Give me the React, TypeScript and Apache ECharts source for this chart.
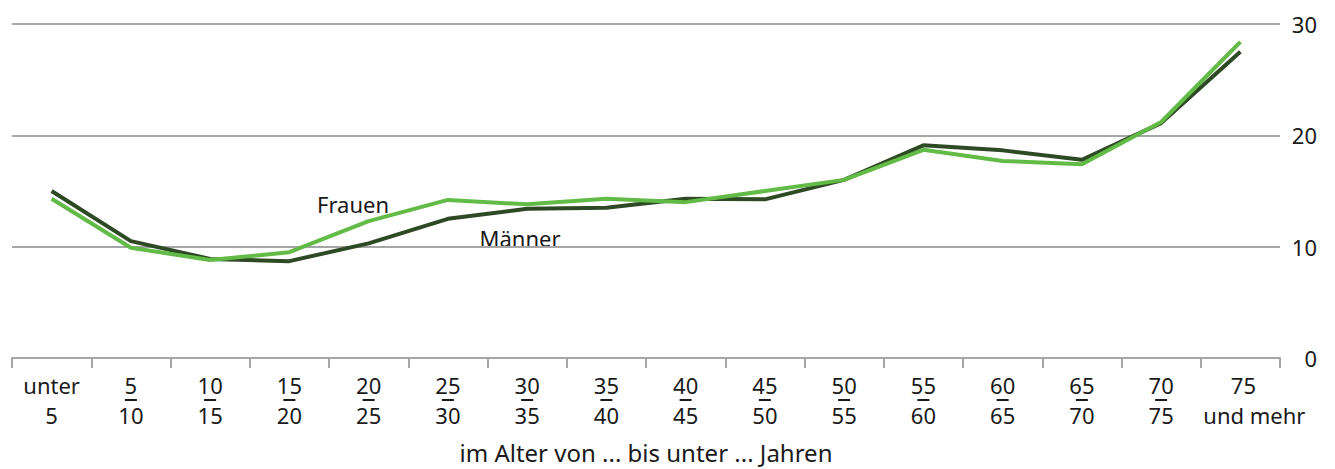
import React, { useEffect, useRef } from "react";
import * as echarts from "echarts";

const ageFrom = ["unter", "5", "10", "15", "20", "25", "30", "35", "40", "45", "50", "55", "60", "65", "70", "75"];
const ageTo = ["5", "10", "15", "20", "25", "30", "35", "40", "45", "50", "55", "60", "65", "70", "75", "und mehr"];
const categories = ageFrom.map((f, i) => `${f} ${ageTo[i]}`);

const maenner = [15.0, 10.5, 8.9, 8.7, 10.3, 12.5, 13.4, 13.5, 14.3, 14.25, 16.0, 19.1, 18.65, 17.8, 21.1, 27.5];
const frauen = [14.3, 9.9, 8.8, 9.5, 12.3, 14.2, 13.8, 14.3, 14.0, 15.0, 16.0, 18.7, 17.7, 17.4, 21.2, 28.4];

const yTicks = [0, 10, 20, 30];
const axisTitle = "im Alter von ... bis unter ... Jahren";

const FONT = "'Noto Sans', sans-serif";
const FS = 22;
const TEXT = "#1a1a1a";
const GRAY = "#a6a6a6";
const DARK = "#2e4a24";
const LIGHT = "#62bb46";

export default function App() {
  const ref = useRef<HTMLDivElement>(null);
  useEffect(() => {
    document.body.style.margin = "0";
    if (!ref.current) return;
    const chart = echarts.init(ref.current, undefined, { renderer: "svg" });
    chart.setOption({
      animation: false,
      textStyle: { fontFamily: FONT },
      grid: { left: 12, right: 55, top: 24, bottom: 104, containLabel: false },
      xAxis: {
        type: "category",
        data: categories,
        boundaryGap: true,
        axisLine: { lineStyle: { color: GRAY, width: 2 } },
        axisTick: { show: true, length: 10, lineStyle: { color: GRAY, width: 2 }, alignWithLabel: false },
        axisLabel: {
          interval: 0,
          margin: 16,
          color: TEXT,
          fontFamily: FONT,
          formatter: (_v: string, i: number) => {
            const first = ageFrom[i] === "unter";
            const last = ageTo[i] === "und mehr";
            const mid = first || last ? "{g| }" : "{d| }";
            const top = last ? `{c|${ageFrom[i]}}` : `{a|${ageFrom[i]}}`;
            const bottom = last ? `{b|${ageTo[i]}}` : `{a|${ageTo[i]}}`;
            return `${top}\n${mid}\n${bottom}`;
          },
          rich: {
            a: { fontSize: FS, lineHeight: 22, color: TEXT, fontFamily: FONT },
            b: { fontSize: FS, lineHeight: 22, color: TEXT, fontFamily: FONT, padding: [0, 0, 0, 28] },
            c: { fontSize: FS, lineHeight: 22, color: TEXT, fontFamily: FONT, padding: [0, 0, 0, 6] },
            d: { fontSize: 2, lineHeight: 8, width: 12, height: 2, backgroundColor: TEXT, color: TEXT, fontFamily: FONT },
            g: { fontSize: 2, lineHeight: 8, fontFamily: FONT },
          },
        },
        name: axisTitle,
        nameLocation: "middle",
        nameGap: 82,
        nameTextStyle: { fontSize: 24, color: TEXT, fontFamily: FONT },
      },
      yAxis: {
        type: "value",
        position: "right",
        min: yTicks[0],
        max: yTicks[yTicks.length - 1],
        interval: 10,
        axisLine: { show: false },
        axisTick: { show: false },
        splitLine: { lineStyle: { color: GRAY, width: 2 } },
        axisLabel: { margin: 37, align: "right", fontSize: FS, color: TEXT, fontFamily: FONT },
      },
      series: [
        {
          name: "Männer",
          type: "line",
          data: maenner,
          symbol: "none",
          lineStyle: { color: DARK, width: 4 },
          z: 2,
        },
        {
          name: "Frauen",
          type: "line",
          data: frauen,
          symbol: "none",
          lineStyle: { color: LIGHT, width: 4 },
          z: 3,
        },
      ],
      graphic: [
        {
          type: "text",
          x: 353,
          y: 204,
          style: { text: "Frauen", fontSize: FS, fill: TEXT, fontFamily: FONT, align: "center", verticalAlign: "middle" },
        },
        {
          type: "text",
          x: 520,
          y: 238,
          style: { text: "Männer", fontSize: FS, fill: TEXT, fontFamily: FONT, align: "center", verticalAlign: "middle" },
        },
      ],
    });
    return () => chart.dispose();
  }, []);
  return <div ref={ref} style={{ width: 1335, height: 469 }} />;
}
